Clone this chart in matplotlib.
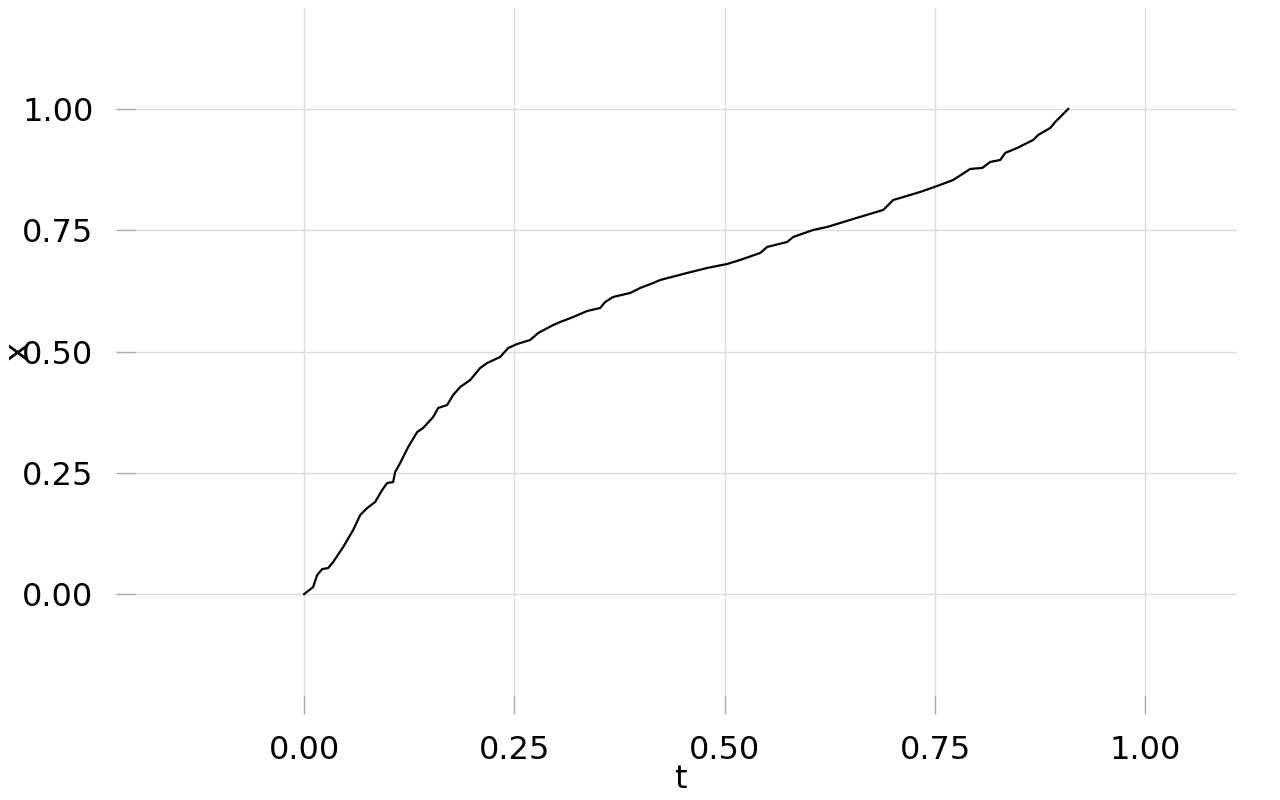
import numpy as np
import matplotlib
matplotlib.use('Agg')
import matplotlib.pyplot as plt

# curve (t, x)
t_vals = [0.0, 0.0107, 0.0155, 0.0214, 0.0285, 0.0345, 0.0464, 0.0583, 0.0666, 0.0749,
          0.0844, 0.0927, 0.0987, 0.1058, 0.1082, 0.1142, 0.1237, 0.1344, 0.1415, 0.1534,
          0.1593, 0.1700, 0.1772, 0.1855, 0.1974, 0.2093, 0.2176, 0.2331, 0.2426, 0.2533,
          0.2687, 0.2782, 0.2961, 0.3044, 0.3199, 0.3365, 0.3520, 0.3579, 0.3674, 0.3876,
          0.3995, 0.4150, 0.4233, 0.4554, 0.4792, 0.5030, 0.5184, 0.5422, 0.5505, 0.5743,
          0.5815, 0.6052, 0.6219, 0.6373, 0.6528, 0.6766, 0.6885, 0.7004, 0.7087, 0.7325,
          0.7527, 0.7717, 0.7919, 0.8062, 0.8157, 0.8276, 0.8335, 0.8478, 0.8597, 0.8668,
          0.8728, 0.8870, 0.8930, 0.9013, 0.9084]
x_vals = [0.0, 0.0144, 0.0392, 0.0515, 0.0536, 0.0660, 0.0969, 0.1320, 0.1629, 0.1773,
          0.1897, 0.2144, 0.2289, 0.2309, 0.2515, 0.2701, 0.3031, 0.3340, 0.3423, 0.3649,
          0.3835, 0.3897, 0.4103, 0.4268, 0.4412, 0.4660, 0.4763, 0.4887, 0.5072, 0.5155,
          0.5237, 0.5381, 0.5546, 0.5608, 0.5711, 0.5835, 0.5897, 0.6021, 0.6124, 0.6206,
          0.6309, 0.6412, 0.6474, 0.6619, 0.6722, 0.6804, 0.6887, 0.7031, 0.7155, 0.7258,
          0.7361, 0.7505, 0.7567, 0.7649, 0.7732, 0.7856, 0.7918, 0.8124, 0.8165, 0.8289,
          0.8412, 0.8536, 0.8763, 0.8784, 0.8907, 0.8948, 0.9093, 0.9196, 0.9299, 0.9361,
          0.9464, 0.9608, 0.9732, 0.9876, 1.0]

ticks = [0.0, 0.25, 0.5, 0.75, 1.0]
tick_labels = ['0.00', '0.25', '0.50', '0.75', '1.00']

fig = plt.figure(figsize=(12.8, 8), dpi=100)
ax = fig.add_axes([0.1055, 0.13125, 0.8609, 0.85875])

ax.plot(t_vals, x_vals, color='black', lw=1.6)

ax.set_xlim(-0.201, 1.109)
ax.set_ylim(-0.208, 1.208)
ax.set_xticks(ticks)
ax.set_xticklabels(tick_labels)
ax.set_yticks(ticks)
ax.set_yticklabels(tick_labels)

for s in ax.spines.values():
    s.set_visible(False)
ax.grid(True, color='#dddddd', lw=1)
ax.set_axisbelow(True)
ax.tick_params(axis='both', direction='out', length=14, width=1, color='#aaaaaa',
               labelsize=23, pad=16)
ax.tick_params(axis='x', pad=15)

ax.set_xlabel('t', fontsize=23)
ax.set_ylabel('x', fontsize=23)
ax.xaxis.set_label_coords(0.495, -0.10)
ax.yaxis.set_label_coords(-0.092, 0.5)

fig.savefig('out.png', dpi=100)
